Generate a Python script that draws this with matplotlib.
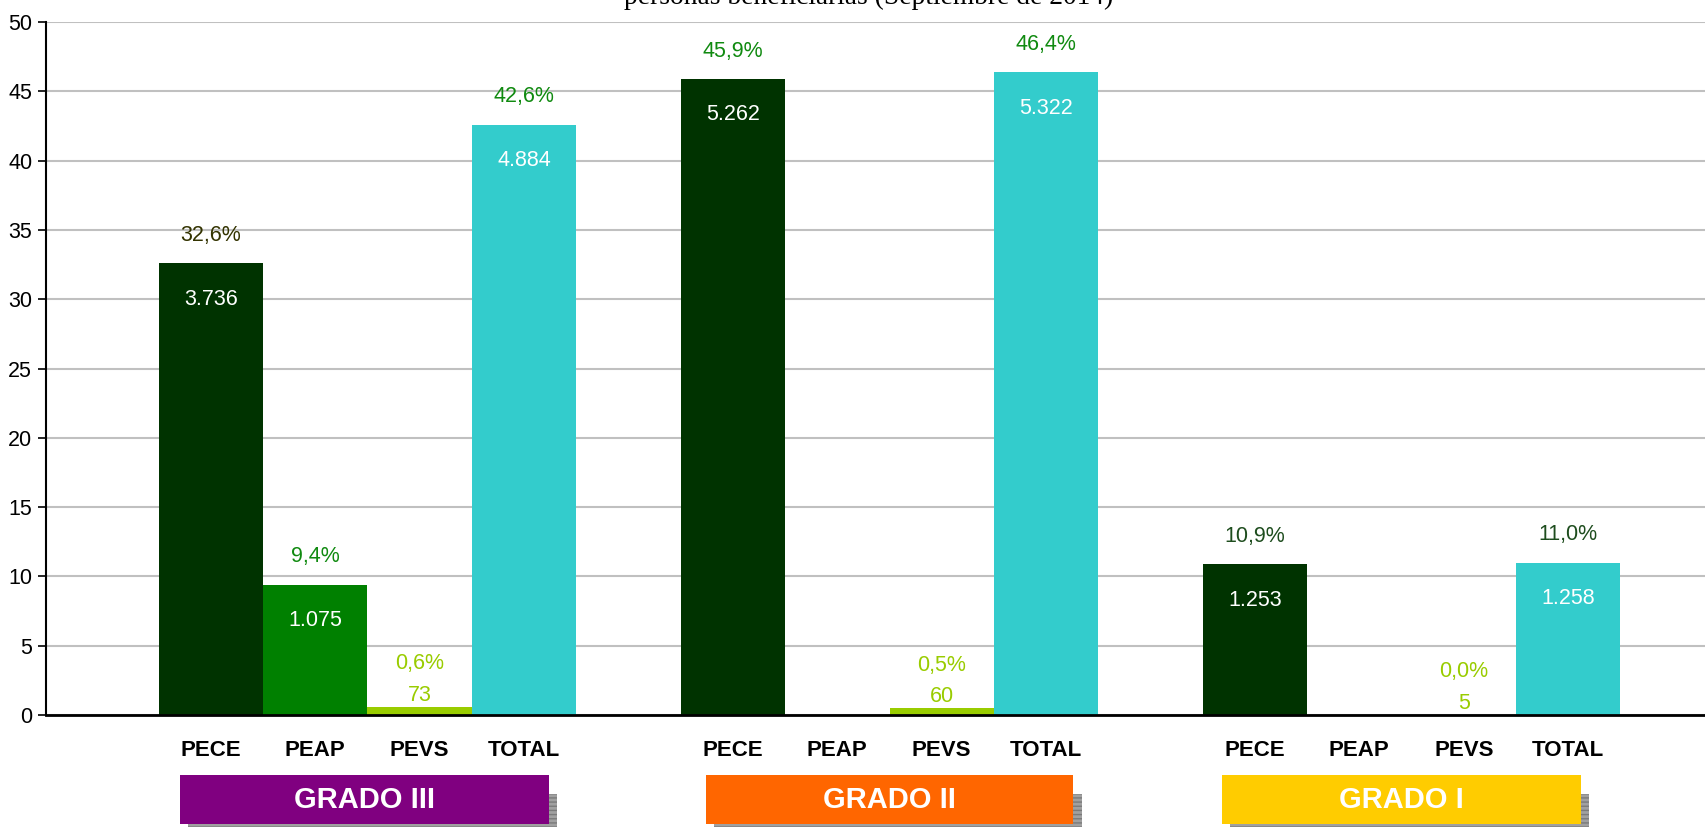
import matplotlib.pyplot as plt
import matplotlib.transforms as mtransforms
from matplotlib.patches import Rectangle

plt.rcParams['font.family'] = ['Liberation Sans', 'DejaVu Sans']

# datos
grados = ['GRADO III', 'GRADO II', 'GRADO I']
series = ['PECE', 'PEAP', 'PEVS', 'TOTAL']
pct = {
    'PECE': [32.6, 45.9, 10.9],
    'PEAP': [9.4, None, None],
    'PEVS': [0.6, 0.5, 0.0],
    'TOTAL': [42.6, 46.4, 11.0],
}
personas = {
    'PECE': ['3.736', '5.262', '1.253'],
    'PEAP': ['1.075', None, None],
    'PEVS': ['73', '60', '5'],
    'TOTAL': ['4.884', '5.322', '1.258'],
}
pct_colors = {
    'PECE': ['#333300', '#108a10', '#1e4d1e'],
    'PEAP': ['#108a10', None, None],
    'PEVS': ['#99cc00', '#99cc00', '#99cc00'],
    'TOTAL': ['#108a10', '#108a10', '#1e4d1e'],
}
bar_colors = {'PECE': '#003300', 'PEAP': '#008000', 'PEVS': '#99cc00', 'TOTAL': '#33cccc'}
grado_colors = ['#800080', '#ff6600', '#ffcc00']
# posicion de las cajas (centro, ancho) en unidades de barra
box_pos = [(1.47, 3.53), (6.5, 3.52), (11.4, 3.44)]

fig = plt.figure(figsize=(17.06, 8.27), dpi=100)
ax = fig.add_axes([0.027, 0.1354, 0.973, 0.838])

for k, s in enumerate(series):
    for g in range(3):
        v = pct[s][g]
        if v is None:
            continue
        x = 5 * g + k
        ax.bar(x, v, width=1.0, color=bar_colors[s], zorder=2)
        lab = ('%.1f%%' % v).replace('.', ',')
        if s == 'PEVS':
            ax.annotate(personas[s][g], (x, v), xytext=(0, 8), textcoords='offset points',
                        ha='center', va='center', fontsize=15.5, color=bar_colors[s])
            ax.annotate(lab, (x, v), xytext=(0, 31), textcoords='offset points',
                        ha='center', va='center', fontsize=15.5, color=pct_colors[s][g])
        else:
            ax.annotate(personas[s][g], (x, v), xytext=(0, -26), textcoords='offset points',
                        ha='center', va='center', fontsize=15.5, color='white')
            ax.annotate(lab, (x, v), xytext=(0, 20), textcoords='offset points',
                        ha='center', va='center', fontsize=15.5, color=pct_colors[s][g])

ax.set_xlim(-1.578, 14.32)
ax.set_ylim(0, 50)
ax.set_yticks(range(0, 51, 5))
ax.tick_params(axis='y', labelsize=15.5, length=6, width=1.2, direction='out', pad=4)
ax.set_xticks([])
ax.grid(axis='y', color='#c0c0c0', lw=1.5, zorder=0)
ax.set_axisbelow(True)
for sp in ['top', 'right']:
    ax.spines[sp].set_visible(False)
ax.spines['left'].set_linewidth(1.5)
ax.spines['bottom'].set_linewidth(2)

# etiquetas de categoria y cajas de grado
trans = mtransforms.blended_transform_factory(ax.transData, fig.transFigure)
for g in range(3):
    for k, s in enumerate(series):
        fig.text(5 * g + k, 0.092, s, transform=trans, fontsize=16, fontweight='bold',
                 ha='center', va='center')
    c, w = box_pos[g]
    sh = Rectangle((c - w / 2 + 0.08, -0.01), w, 0.05, transform=trans,
                   facecolor='#a0a0a0', edgecolor='#7a7a7a', hatch='----', lw=0)
    fig.patches.append(sh)
    box = Rectangle((c - w / 2, 0.0036), w, 0.059, transform=trans,
                    facecolor=grado_colors[g], edgecolor='none')
    fig.patches.append(box)
    fig.text(c, 0.033, grados[g], transform=trans, fontsize=21, fontweight='bold',
             color='white', ha='center', va='center')

fig.text(0.509, 0.995, 'personas beneficiarias (Septiembre de 2014)',
         family='Liberation Serif', fontsize=19.8, ha='center', va='baseline')

fig.savefig('out.png', dpi=100)
